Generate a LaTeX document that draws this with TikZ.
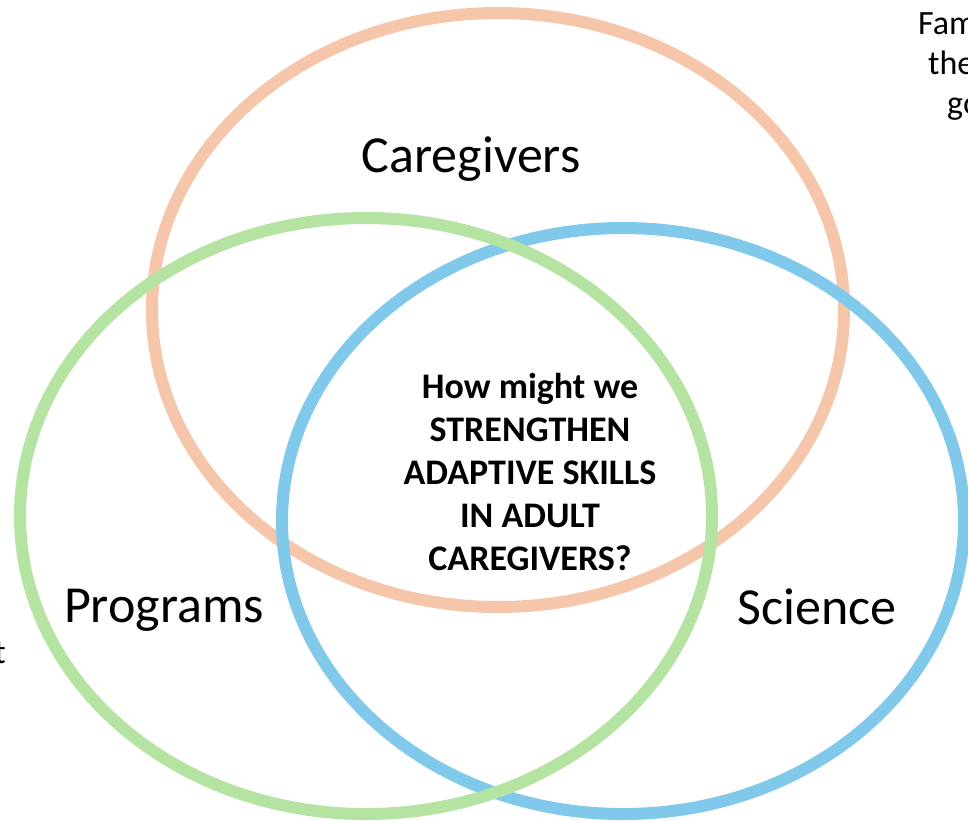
\documentclass[tikz,border=0pt]{standalone}
\usepackage{fontspec}
\setmainfont{Carlito}
\definecolor{ringorange}{HTML}{F5C6AA}
\definecolor{ringgreen}{HTML}{B5E3A1}
\definecolor{ringblue}{HTML}{80C9EA}
\tikzset{
  ring/.style={line width=12pt},
  setlabel/.style={font=\fontsize{52}{62}\selectfont, inner sep=0pt, anchor=base},
  sidenote/.style={font=\fontsize{34}{40}\selectfont, inner sep=0pt, anchor=base west},
  question/.style={font=\fontsize{36}{43}\selectfont\bfseries, align=center, inner sep=0pt}
}
\begin{document}
\begin{tikzpicture}[x=1pt,y=-1pt]
  \useasboundingbox (0,0) rectangle (968,820);
  \clip (0,0) rectangle (968,820);
  \fill[white] (0,0) rectangle (968,820);

  % the three overlapping sets
  \draw[ring, ringorange] (498,310) ellipse [x radius=346pt, y radius=297pt];
  \draw[ring, ringblue]   (623,521) ellipse [x radius=341pt, y radius=293pt];
  \draw[ring, ringgreen]  (366,516) ellipse [x radius=346pt, y radius=298pt];

  % set labels
  \node[setlabel] (caregivers) at (471,172) {Caregivers};
  \node[setlabel] (programs)   at (164,622) {Programs};
  \node[setlabel] (science)    at (817,624) {Science};

  % question at the common overlap
  \node[question] (question) at (530,472)
    {How might we\\STRENGTHEN\\ADAPTIVE SKILLS\\IN ADULT\\CAREGIVERS?};

  % margin notes running off the page
  \node[sidenote] (noteA) at (918,34)  {Fam};
  \node[sidenote] (noteB) at (928,74)  {the};
  \node[sidenote] (noteC) at (947,114) {go};
  \node[font=\fontsize{34}{40}\selectfont, inner sep=0pt, anchor=base east] (noteD) at (6,663) {t};
\end{tikzpicture}
\end{document}
